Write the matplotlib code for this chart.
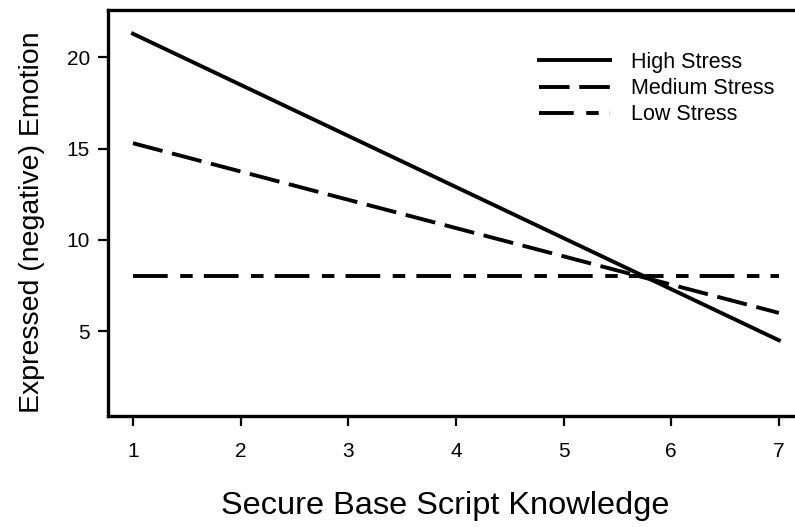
import matplotlib
matplotlib.use("Agg")
import matplotlib.pyplot as plt

plt.rcParams['font.family'] = ['Liberation Sans', 'DejaVu Sans']
plt.rcParams['lines.scale_dashes'] = False

# simple slopes at three stress levels
knowledge = [1, 7]
high_stress = [21.3, 4.5]
medium_stress = [15.3, 6.0]
low_stress = [8.0, 8.0]

x_ticks = [1, 2, 3, 4, 5, 6, 7]
y_ticks = [5, 10, 15, 20]

fig = plt.figure(figsize=(7.95, 5.27), dpi=100)
# axes run off the right edge, like the original
ax = fig.add_axes([108 / 795, 111 / 527, 757 / 795, 406 / 527])

ax.plot(knowledge, high_stress, color='black', lw=2.8, ls='-',
        label='High Stress')
ax.plot(knowledge, medium_stress, color='black', lw=2.8, ls=(0, (22, 7)),
        label='Medium Stress')
ax.plot(knowledge, low_stress, color='black', lw=2.8,
        ls=(0, (25, 9, 9, 8)), label='Low Stress')

ax.set_xlim(0.768, 7.8)
ax.set_ylim(0.35, 22.6)
ax.set_xticks(x_ticks)
ax.set_yticks(y_ticks)
ax.tick_params(axis='both', direction='out', length=7, width=1.6,
               labelsize=15, color='black')
ax.tick_params(axis='x', pad=12)
ax.tick_params(axis='y', pad=6)

for side in ax.spines.values():
    side.set_linewidth(2.4)
ax.spines['right'].set_visible(False)

ax.set_xlabel('Secure Base Script Knowledge', fontsize=23.4, va='center')
ax.xaxis.set_label_coords(337 / 757, -0.222)
ax.set_ylabel('Expressed (negative) Emotion', fontsize=20.5, va='center')
ax.yaxis.set_label_coords(-76 / 757, 0.478)

leg = ax.legend(loc='upper left', bbox_to_anchor=(412 / 757, 0.945),
                frameon=False, fontsize=15.5, handlelength=3.3,
                handletextpad=0.95, labelspacing=0.25)

fig.savefig('out.png', dpi=100)
